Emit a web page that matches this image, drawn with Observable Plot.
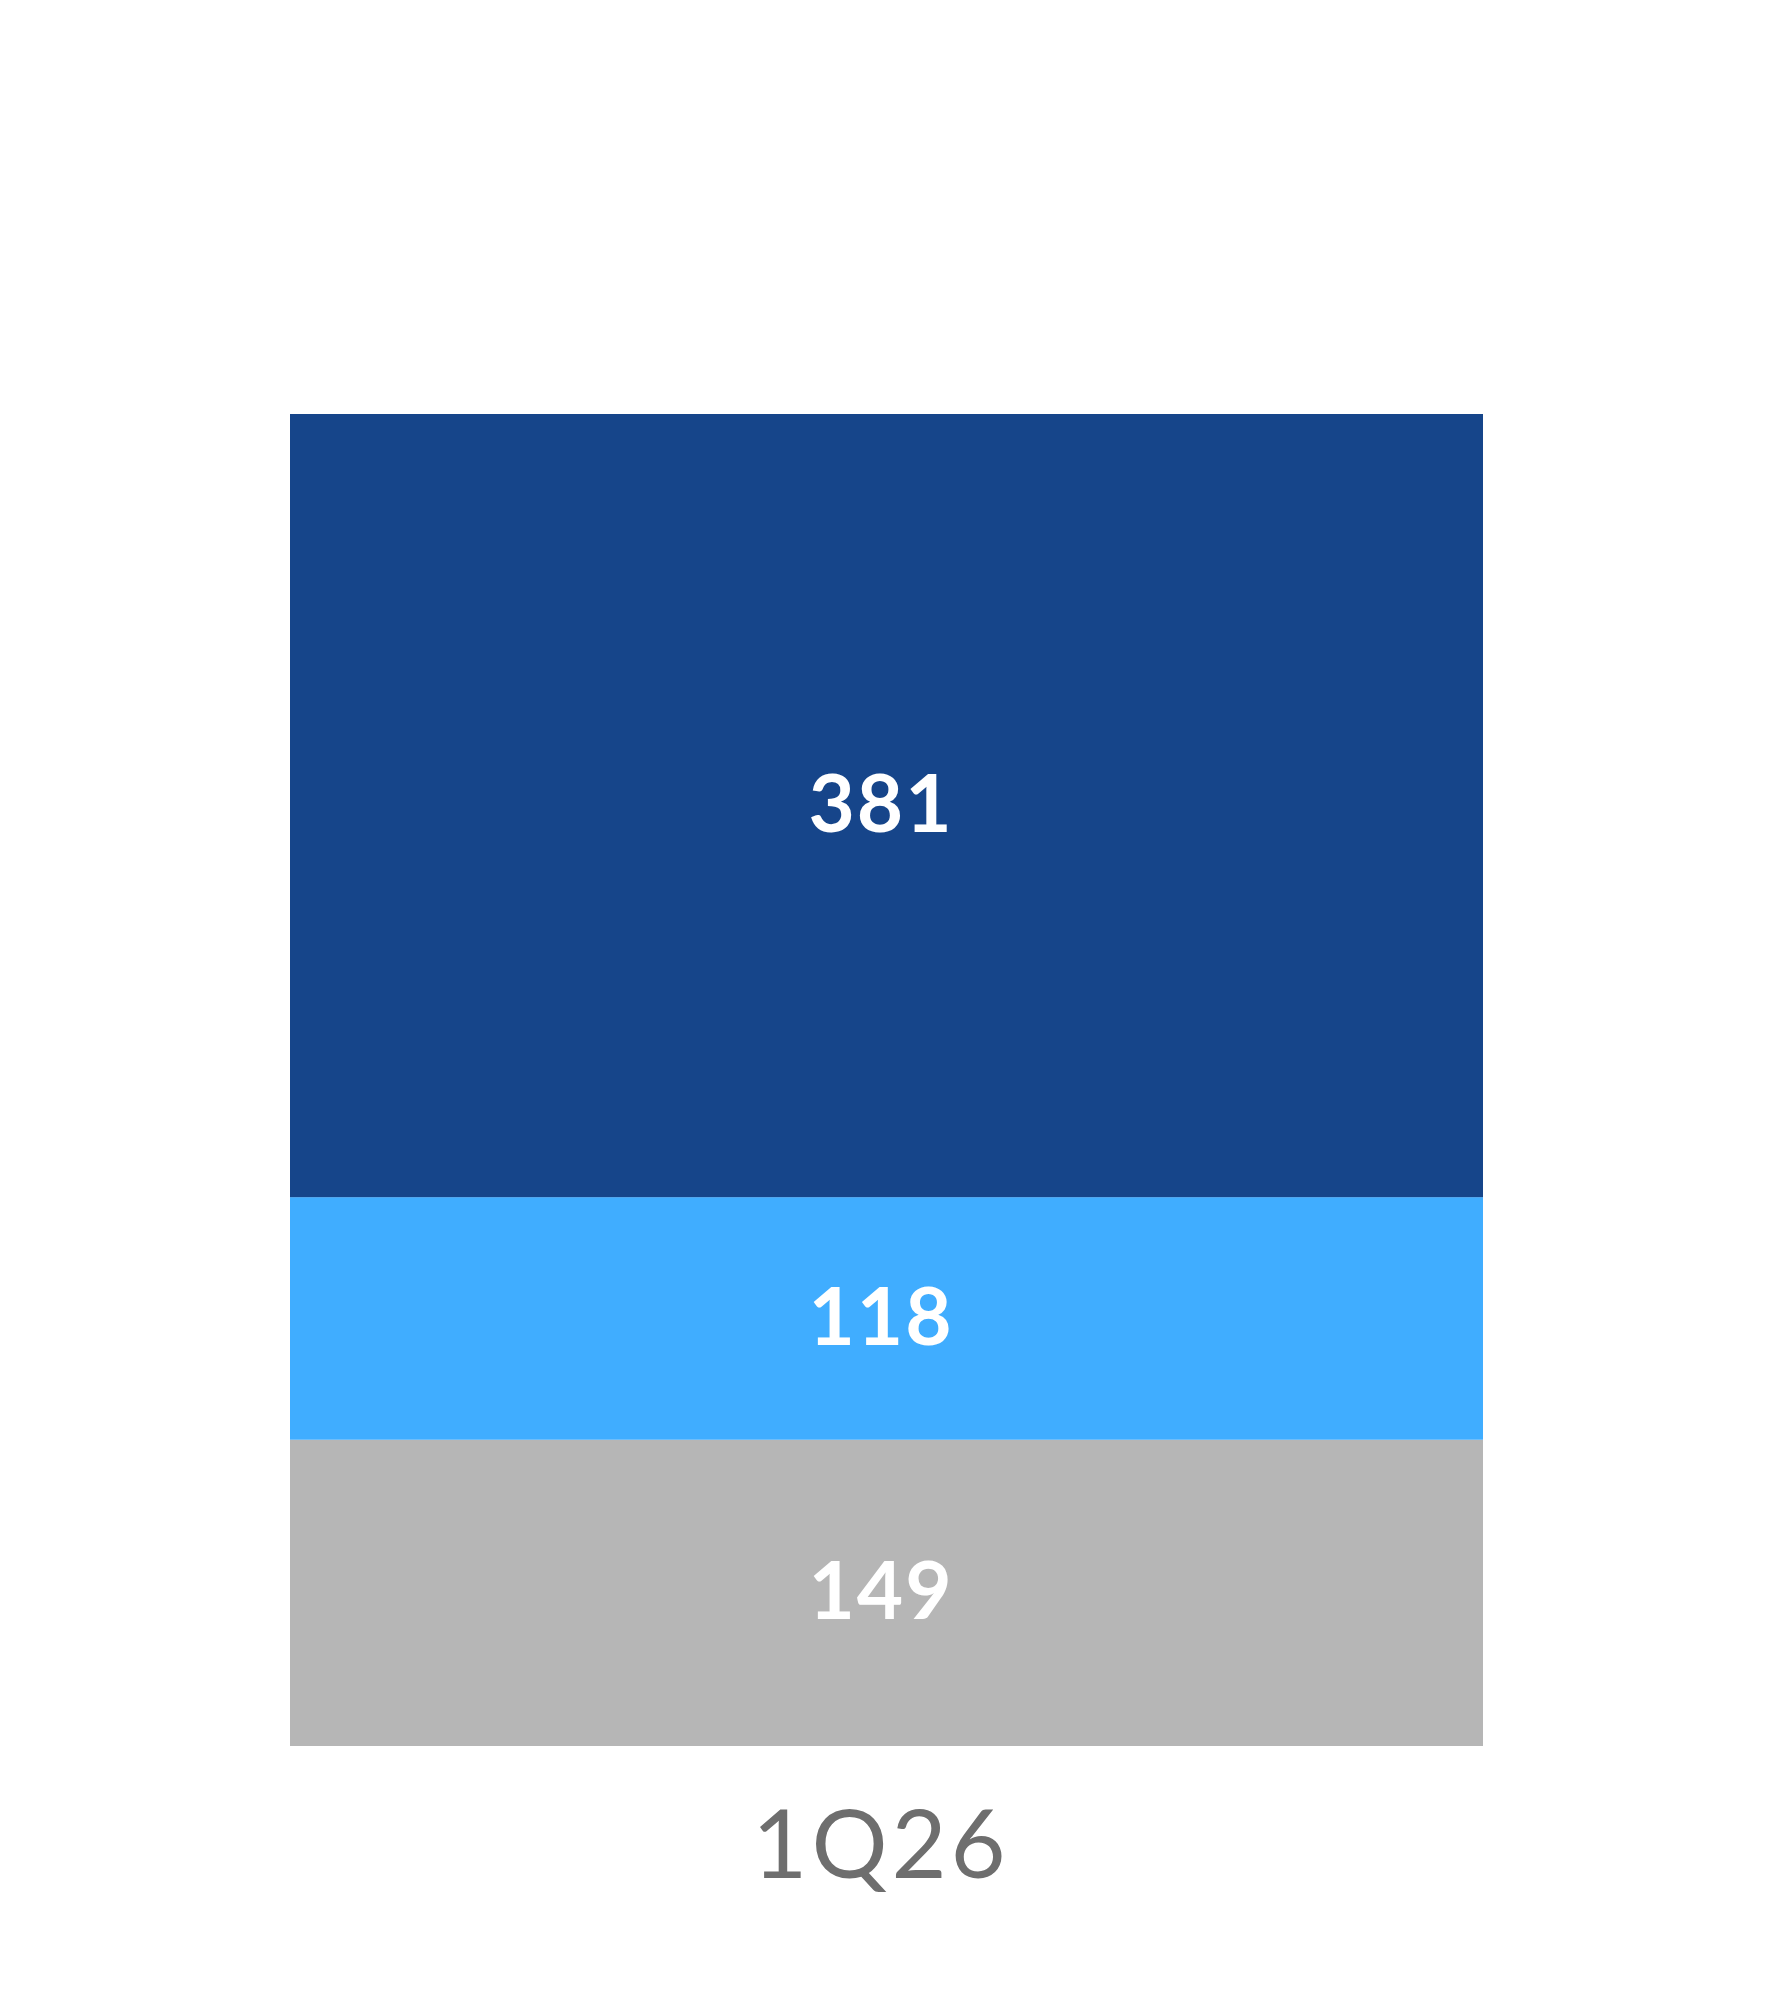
<!DOCTYPE html>
<html>
<head>
<meta charset="utf-8">
<script src="https://cdn.jsdelivr.net/npm/d3@7"></script>
<script src="https://cdn.jsdelivr.net/npm/@observablehq/plot@0.6"></script>
<style>
  html, body { margin: 0; padding: 0; background: #ffffff; }
  #chart svg { display: block; }
  #chart g[aria-label="x-axis tick label"] text { letter-spacing: 4px; }
  #chart g[aria-label="text"] text { letter-spacing: 2px; }
</style>
</head>
<body>
<div id="chart"></div>
<script>
const periods = ["1Q26"];
const series = ["Gray", "Light", "Dark"];
const values = [149, 118, 381];
const colors = ["#b6b6b6", "#40adff", "#16458a"];

const data = series.map((s, i) => ({period: periods[0], series: s, value: values[i]}));
const total = d3.sum(values);

const chart = Plot.plot({
  width: 1770,
  height: 1998,
  marginLeft: 290,
  marginRight: 287,
  marginTop: 414,
  marginBottom: 252,
  style: {background: "#ffffff", fontFamily: "Lato, 'Open Sans', sans-serif"},
  x: {domain: periods, padding: 0, label: null},
  y: {domain: [0, total], axis: null},
  color: {domain: series, range: colors},
  marks: [
    Plot.barY(data, {x: "period", y: "value", fill: "series", z: "series"}),
    Plot.text(data, Plot.stackY({x: "period", y: "value", z: "series", text: d => String(d.value),
      fill: "white", fontSize: 80, fontWeight: "bold", dx: -6})),
    Plot.axisX({tickSize: 0, tickPadding: 64, fontSize: 95, fill: "#6e6e6e", label: null, dx: -6})
  ]
});
document.getElementById("chart").appendChild(chart);
</script>
</body>
</html>
